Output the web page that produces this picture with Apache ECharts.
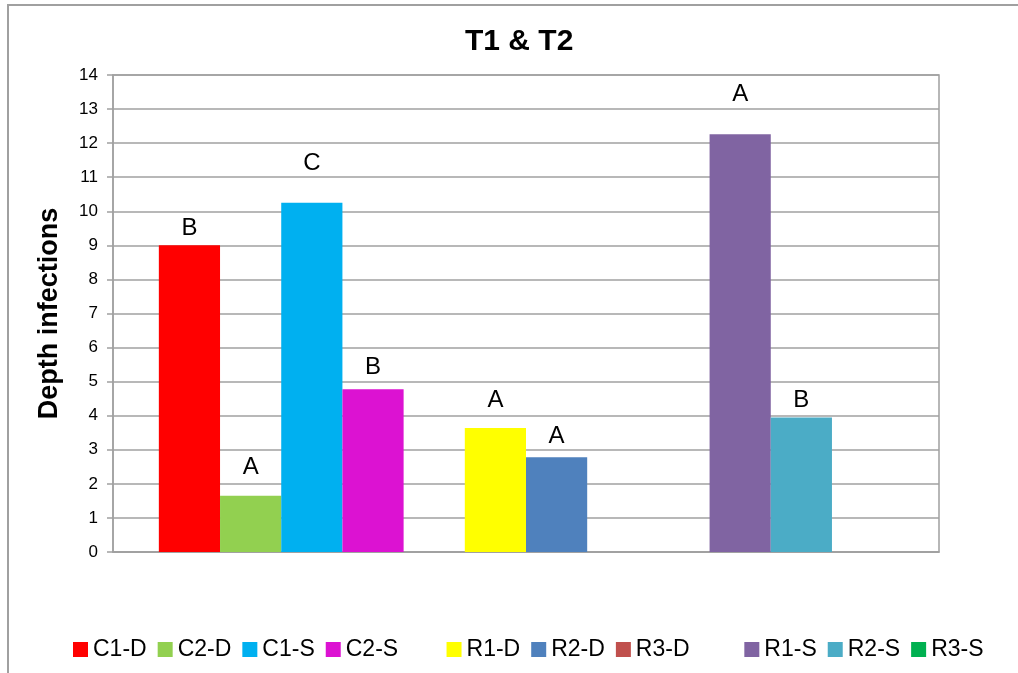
<!DOCTYPE html>
<html>
<head>
<meta charset="utf-8">
<title>T1 & T2</title>
<script src="https://cdn.jsdelivr.net/npm/echarts@6/dist/echarts.min.js"></script>
<style>
  html, body { margin: 0; padding: 0; background: #fff; }
  #chart { width: 1018px; height: 673px; }
</style>
</head>
<body>
<div id="chart"></div>
<script>
// one category, one series per treatment; ' ' entries are the empty spacer slots
const categories = ['T1 & T2']
const seriesNames = ['C1-D', 'C2-D', 'C1-S', 'C2-S', ' ', 'R1-D', 'R2-D', 'R3-D', '  ', 'R1-S', 'R2-S', 'R3-S']
const depthValues = [9.0, 1.65, 10.25, 4.78, null, 3.64, 2.78, 0, null, 12.26, 3.95, 0]
const letters = ['B', 'A', 'C', 'B', '', 'A', 'A', '', '', 'A', 'B', '']
const yTicks = [0, 14, 1] // min, max, interval

// styles
const colors = ['#ff0000', '#92d050', '#00b0f0', '#dc12d2', 'transparent', '#ffff00', '#4f81bd', '#c0504d', 'transparent', '#8064a2', '#4bacc6', '#00b050']
const labelGap = [5, 16, 27, 10, 0, 16, 9, 0, 0, 28, 5, 0]
const font = 'Liberation Sans, Arial, sans-serif'
const gray = '#a0a0a0'

var myChart = echarts.init(document.getElementById('chart'))

var series = seriesNames.map(function (name, i) {
  return {
    name: name,
    type: 'bar',
    data: [depthValues[i]],
    barGap: '0%',
    barCategoryGap: '11.1%',
    itemStyle: { color: colors[i] },
    label: {
      show: letters[i] !== '',
      position: 'top',
      distance: labelGap[i],
      formatter: function () { return letters[i] },
      color: '#000',
      fontSize: 24,
      fontFamily: font
    }
  }
})

myChart.setOption({
  animation: false,
  title: {
    text: 'T1 & T2',
    left: 460,
    top: 22,
    textStyle: { fontSize: 30, fontWeight: 'bold', color: '#000', fontFamily: font }
  },
  legend: {
    data: seriesNames,
    left: 68,
    top: 633,
    icon: 'rect',
    itemWidth: 15,
    itemHeight: 15,
    itemGap: 11,
    selectedMode: false,
    textStyle: { fontSize: 23, color: '#000', fontFamily: font }
  },
  grid: {
    left: 113,
    right: 79,
    top: 75,
    bottom: 121,
    show: true,
    borderColor: gray,
    borderWidth: 1.5
  },
  xAxis: {
    type: 'category',
    data: categories,
    axisLine: { lineStyle: { color: gray, width: 1.5 } },
    axisTick: { show: false },
    axisLabel: { show: false }
  },
  yAxis: {
    type: 'value',
    min: yTicks[0],
    max: yTicks[1],
    interval: yTicks[2],
    name: 'Depth infections',
    nameLocation: 'middle',
    nameGap: 50,
    nameTextStyle: { fontSize: 27, fontWeight: 'bold', color: '#000', fontFamily: font },
    axisLine: { show: true, lineStyle: { color: gray, width: 1.5 } },
    axisTick: { show: true, length: 6, lineStyle: { color: gray, width: 1.5 } },
    axisLabel: { margin: 15, fontSize: 17, color: '#000', fontFamily: font },
    splitLine: { lineStyle: { color: gray, width: 1.5 } }
  },
  graphic: [{
    type: 'rect',
    shape: { x: 8, y: 5, width: 1100, height: 800 },
    style: { fill: 'none', stroke: gray, lineWidth: 2 },
    silent: true
  }],
  series: series
})
</script>
</body>
</html>
